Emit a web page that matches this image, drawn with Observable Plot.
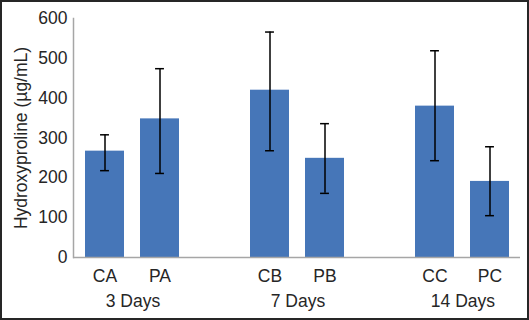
<!DOCTYPE html>
<html><head><meta charset="utf-8">
<script src="https://cdn.jsdelivr.net/npm/d3@7"></script>
<script src="https://cdn.jsdelivr.net/npm/@observablehq/plot@0.6"></script>
<style>
html,body{margin:0;padding:0;background:#fff;}
#chart{width:529px;height:320px;box-sizing:border-box;border:2px solid #262626;overflow:hidden;background:#fff;}
#chart svg{display:block;}
</style></head><body><div id="chart"></div>
<script>
const categories = ["CA", "PA", "CB", "PB", "CC", "PC"];
const groupOf = ["3 Days", "3 Days", "7 Days", "7 Days", "14 Days", "14 Days"];
const means = [267, 348, 420, 249, 380, 191];
const errLow = [218, 211, 268, 161, 243, 105];
const errHigh = [308, 474, 566, 336, 519, 278];
const groupLabels = ["3 Days", "7 Days", "14 Days"];
const groupFirst = ["CA", "CB", "CC"];
const yTicks = [0, 100, 200, 300, 400, 500, 600];
const yLabel = "Hydroxyproline (µg/mL)";
const slots = ["CA", "PA", "gap1", "CB", "PB", "gap2", "CC", "PC"];

const data = categories.map((c, i) => ({cat: c, group: groupOf[i], mean: means[i], low: errLow[i], high: errHigh[i]}));
const groupData = groupLabels.map((g, i) => ({label: g, first: groupFirst[i]}));

const W = 525, H = 316, mL = 71, mR = 7, mT = 16, mB = 61;
const step = (W - mL - mR) / slots.length;
const capInset = (step * 0.7 - 9) / 2;
const FS = 17.5;

const plot = Plot.plot({
  width: W, height: H,
  marginLeft: mL, marginRight: mR, marginTop: mT, marginBottom: mB,
  style: {fontFamily: "'Liberation Sans', Arial, sans-serif", fontSize: FS + "px", color: "#262626", background: "#fff"},
  x: {domain: slots, paddingInner: 0.3, paddingOuter: 0.15},
  y: {domain: [0, 600]},
  marks: [
    Plot.barY(data, {x: "cat", y: "mean", fill: "#4676b8"}),
    Plot.ruleX(data, {x: "cat", y1: "low", y2: "high", stroke: "#000", strokeWidth: 1.5}),
    Plot.tickY(data, {x: "cat", y: "low", stroke: "#000", strokeWidth: 1.5, insetLeft: capInset, insetRight: capInset}),
    Plot.tickY(data, {x: "cat", y: "high", stroke: "#000", strokeWidth: 1.5, insetLeft: capInset, insetRight: capInset}),
    Plot.ruleY([0], {stroke: "#a6a6a6", strokeWidth: 1.5}),
    Plot.frame({anchor: "left", stroke: "#a6a6a6", strokeWidth: 1.5}),
    Plot.axisY({ticks: yTicks, tickSize: 0, tickPadding: 6, label: yLabel, labelArrow: "none", labelAnchor: "center", labelOffset: 59, fontSize: FS}),
    Plot.axisX({ticks: categories, tickSize: 0, tickPadding: 12, label: null, fontSize: FS}),
    Plot.text(groupData, {x: "first", text: "label", frameAnchor: "bottom", lineAnchor: "top", dy: 37, dx: step / 2, fontSize: FS})
  ]
});
document.getElementById("chart").appendChild(plot);
</script>
</body></html>
